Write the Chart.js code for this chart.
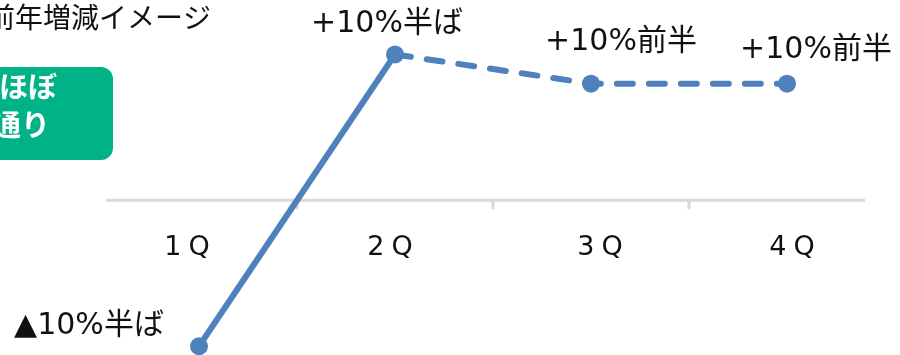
<!DOCTYPE html>
<html>
<head>
<meta charset="utf-8">
<script src="https://cdn.jsdelivr.net/npm/chart.js@4"></script>
<style>
  html, body { margin: 0; padding: 0; background: #fff; }
  #wrap { width: 900px; height: 355px; position: relative; }
</style>
</head>
<body>
<div id="wrap"><canvas id="yoyChart" width="900" height="355"></canvas></div>
<script>
// quarters and year-on-year change (%)
const quarters = ['1Q', '2Q', '3Q', '4Q'];
const yoyValues = [-15, 15, 12, 12];
const pointLabels = ['▲10%半ば', '+10%半ば', '+10%前半', '+10%前半'];
const titleText = '前年増減イメージ';
const badgeLines = ['ほぼ', '通り'];

// DejaVu for the latin part (close to Meiryo), Noto CJK for kana/kanji
const FONT = '"DejaVu Sans", "Noto Sans CJK JP", sans-serif';
const lineBlue = '#4F81BD';
const axisGrey = '#D9D9D9';
const badgeGreen = '#00B386';

// where each value label sits relative to its point
const labelShift = [[-110, -20], [-8, -30], [30, -41], [29, -33]];
// small nudges of the quarter names under the zero line
const quarterShift = [-12, -5, 9, 5];

const decorPlugin = {
    id: 'decor',
    beforeDatasetsDraw(chart) {
        const ctx = chart.ctx;
        const x = chart.scales.x;
        const y = chart.scales.y;
        const area = chart.chartArea;
        const y0 = y.getPixelForValue(0);

        ctx.save();

        // title (cut at the left edge, as in the slide)
        ctx.fillStyle = '#111';
        ctx.font = '28px ' + FONT;
        ctx.textAlign = 'left';
        ctx.textBaseline = 'middle';
        ctx.fillText(titleText, -13, 21);

        // green badge
        ctx.fillStyle = badgeGreen;
        ctx.beginPath();
        ctx.roundRect(-20, 67, 133, 93, 12);
        ctx.fill();
        ctx.fillStyle = '#fff';
        ctx.font = 'bold 29px ' + FONT;
        ctx.fillText(badgeLines[0], -1, 90);
        ctx.fillText(badgeLines[1], -8, 128);

        // zero line with tick marks between quarters
        ctx.strokeStyle = axisGrey;
        ctx.lineWidth = 3;
        ctx.beginPath();
        ctx.moveTo(area.left + 5, y0);
        ctx.lineTo(area.right - 20, y0);
        for (let i = 0; i < quarters.length - 1; i++) {
            const tx = (x.getPixelForValue(i) + x.getPixelForValue(i + 1)) / 2;
            ctx.moveTo(tx, y0);
            ctx.lineTo(tx, y0 + 9);
        }
        ctx.stroke();

        // quarter labels under the zero line
        ctx.fillStyle = '#111';
        ctx.font = '27px ' + FONT;
        ctx.textAlign = 'center';
        ctx.letterSpacing = '7px';
        quarters.forEach((q, i) => {
            ctx.fillText(q, x.getPixelForValue(i) + quarterShift[i] + 3.5, y0 + 48);
        });
        ctx.letterSpacing = '0px';
        ctx.restore();
    },
    afterDatasetsDraw(chart) {
        const ctx = chart.ctx;
        const meta = chart.getDatasetMeta(0);
        ctx.save();
        ctx.fillStyle = '#111';
        ctx.font = '30px ' + FONT;
        ctx.textAlign = 'center';
        ctx.textBaseline = 'middle';
        meta.data.forEach((pt, i) => {
            ctx.fillText(pointLabels[i], pt.x + labelShift[i][0], pt.y + labelShift[i][1]);
        });
        ctx.restore();
    }
};

const ctx = document.getElementById('yoyChart').getContext('2d');
new Chart(ctx, {
    type: 'line',
    data: {
        labels: quarters,
        datasets: [{
            data: yoyValues,
            borderColor: lineBlue,
            backgroundColor: lineBlue,
            borderWidth: 6,
            borderCapStyle: 'round',
            pointRadius: 9,
            pointBorderWidth: 0,
            pointBackgroundColor: lineBlue,
            tension: 0,
            clip: false,
            segment: {
                // actual first, forecast dashed afterwards
                borderDash: c => c.p0DataIndex >= 1 ? [16, 16] : undefined
            }
        }]
    },
    options: {
        responsive: false,
        animation: false,
        layout: {
            autoPadding: false,
            padding: { left: 101, right: 15, top: 35, bottom: 0 }
        },
        plugins: {
            legend: { display: false },
            tooltip: { enabled: false }
        },
        scales: {
            x: { display: false, offset: true },
            y: { display: false, min: -15.9, max: 17 }
        }
    },
    plugins: [decorPlugin]
});
</script>
</body>
</html>
